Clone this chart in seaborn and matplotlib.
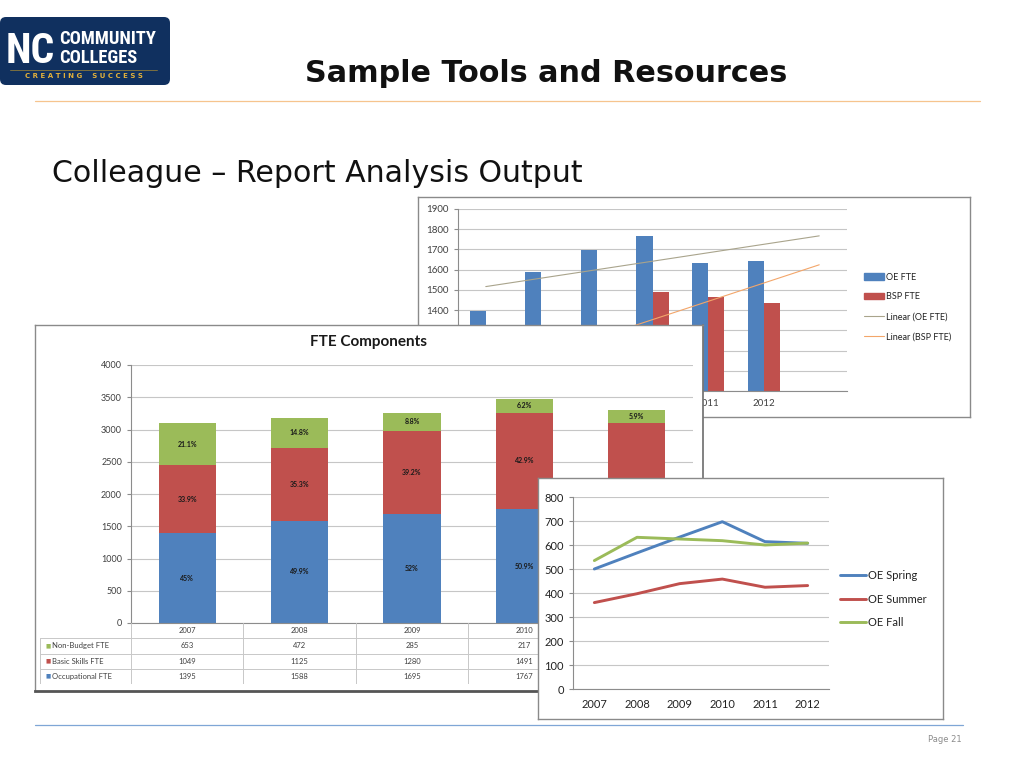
import numpy as np
import pandas as pd
import matplotlib
matplotlib.use('Agg')
import matplotlib.pyplot as plt
import seaborn as sns
from matplotlib.patches import Patch, FancyBboxPatch
from matplotlib.lines import Line2D

sns.set_style('white')
plt.rcParams['font.family'] = ['Lato', 'DejaVu Sans']

# --- data: OE / BSP chart
oe_years = ['2007', '2008', '2009', '2010', '2011', '2012']
oe_fte = [1395, 1588, 1695, 1767, 1635, 1645]
bsp_fte = [1049, 1125, 1280, 1491, 1466, 1435]

# --- data: FTE Components
fte_years = ['2007', '2008', '2009', '2010', '2011']
occupational = [1395, 1588, 1695, 1767, 1635]
basic_skills = [1049, 1125, 1280, 1491, 1466]
non_budget = [653, 472, 285, 217, 195]
occ_pct = ['45%', '49.9%', '52%', '50.9%', '']
basic_pct = ['33.9%', '35.3%', '39.2%', '42.9%', '']
nb_pct = ['21.1%', '14.8%', '8.8%', '6.2%', '5.9%']
row_names = ['Non-Budget FTE', 'Basic Skills FTE', 'Occupational FTE']

# --- data: seasonal OE
season_years = [2007, 2008, 2009, 2010, 2011, 2012]
oe_spring = [500, 567, 633, 697, 614, 607]
oe_summer = [360, 397, 439, 458, 424, 431]
oe_fall = [535, 632, 625, 618, 600, 608]

BLUE = '#4f81bd'
RED = '#c0504d'
GREEN = '#9bbb59'
GRID = '#c6c6c6'
AXC = '#8c8c8c'
TXT = '#404040'
NARROW = ['Liberation Sans Narrow', 'Roboto Condensed', 'DejaVu Sans']

W, H = 1024, 768
fig = plt.figure(figsize=(W / 100, H / 100), dpi=100)
fig.patch.set_facecolor('white')


def px_axes(x0, y0, x1, y1, z):
    return fig.add_axes([x0 / W, 1 - y1 / H, (x1 - x0) / W, (y1 - y0) / H], zorder=z)


def panel(x0, y0, x1, y1, z):
    p = px_axes(x0, y0, x1, y1, z)
    p.set_xticks([])
    p.set_yticks([])
    p.set_facecolor('white')
    for s in p.spines.values():
        s.set_color('#8a8a8a')
        s.set_linewidth(1)
    return p


# ---------- slide header
logo = px_axes(0, 17, 171, 86, 1)
logo.set_xlim(0, 171)
logo.set_ylim(86, 17)
logo.axis('off')
logo.add_patch(FancyBboxPatch((0, 17), 170, 68, boxstyle='round,pad=0,rounding_size=6',
                              fc='#10305f', ec='none', clip_on=False))
logo.text(6, 63, 'NC', color='white', fontsize=30, fontweight='bold',
          family=NARROW, va='baseline')
logo.text(59, 44, 'COMMUNITY', color='white', fontsize=13.3, fontweight='bold',
          family=NARROW, va='baseline')
logo.text(59, 63, 'COLLEGES', color='white', fontsize=13.3, fontweight='bold',
          family=NARROW, va='baseline')
logo.plot([10, 157], [70, 70], color='#8c7a3a', lw=0.6)
logo.text(84, 76, 'C R E A T I N G    S U C C E S S', color='#e3b13a', fontsize=5,
          fontweight='bold', family='DejaVu Sans', ha='center', va='center')

fig.text(546 / W, 1 - 73 / H, 'Sample Tools and Resources', ha='center', va='center',
         fontsize=21.8, fontweight='bold', family='DejaVu Sans', color='#111111')
fig.add_artist(Line2D([35 / W, 980 / W], [1 - 101 / H] * 2, color='#f6c48e', lw=0.9))
fig.text(52 / W, 1 - 173 / H, 'Colleague \u2013 Report Analysis Output', ha='left',
         va='center', fontsize=21.6, family='DejaVu Sans', color='#111111')
fig.add_artist(Line2D([35 / W, 963 / W], [1 - 725 / H] * 2, color='#7fa6d6', lw=0.9))
fig.text(945 / W, 1 - 740 / H, 'Page 21', ha='center', va='center', fontsize=6,
         color='#8c8c8c', family='DejaVu Sans')

# ---------- chart 1: OE FTE vs BSP FTE with linear trends
panel(418, 197, 970, 417, 2)
ax1 = px_axes(458, 209, 847, 391, 3)
ax1.set_facecolor('none')
df1 = pd.DataFrame({'Year': oe_years * 2,
                    'FTE': oe_fte + bsp_fte,
                    'Series': ['OE FTE'] * 6 + ['BSP FTE'] * 6})
sns.barplot(data=df1, x='Year', y='FTE', hue='Series', palette=[BLUE, RED],
            width=0.58, saturation=1, linewidth=0, errorbar=None, legend=False, ax=ax1)
xs = np.arange(len(oe_years))
xt = np.arange(len(oe_years) + 1)
oe_fit = np.polyval(np.polyfit(xs, oe_fte, 1), xt)
bsp_fit = np.polyval(np.polyfit(xs, bsp_fte, 1), xt)
ax1.plot(xt, oe_fit, color='#a9a48c', lw=0.8)
ax1.plot(xt, bsp_fit, color='#f3a66a', lw=0.8)
ax1.set_xlim(-0.5, 6.5)
ax1.set_ylim(1000, 1900)
ax1.set_yticks(range(1000, 2000, 100))
ax1.set_xticks(xs)
ax1.set_xticks(np.arange(-0.5, 7, 1), minor=True)
ax1.tick_params(axis='x', which='major', length=0, labelsize=7, labelcolor=TXT, pad=6)
ax1.tick_params(axis='x', which='minor', length=4, color=AXC, direction='out')
ax1.tick_params(axis='y', length=3, color=AXC, labelsize=7, labelcolor=TXT, left=True)
ax1.set_xlabel('')
ax1.set_ylabel('')
ax1.grid(axis='y', color=GRID, lw=0.8)
ax1.set_axisbelow(True)
for s in ['top', 'right']:
    ax1.spines[s].set_visible(False)
for s in ['left', 'bottom']:
    ax1.spines[s].set_color(AXC)
    ax1.spines[s].set_linewidth(0.8)
h1 = [Patch(color=BLUE, label='OE FTE'), Patch(color=RED, label='BSP FTE'),
      Line2D([], [], color='#a9a48c', lw=0.8, label='Linear (OE FTE)'),
      Line2D([], [], color='#f3a66a', lw=0.8, label='Linear (BSP FTE)')]
ax1.legend(handles=h1, loc='center left', bbox_to_anchor=(1.022, 0.462), frameon=False,
           fontsize=6.5, handlelength=2.3, handleheight=0.7, handletextpad=0.2,
           labelspacing=1.2, labelcolor='#222222')

# ---------- chart 2: FTE Components (stacked)
p2 = panel(35, 325, 703, 691, 4)
p2.spines['bottom'].set_color('#555555')
p2.spines['bottom'].set_linewidth(2)
p2.spines['right'].set_color('#777777')
p2.spines['right'].set_linewidth(1.3)
fig.text(369 / W, 1 - 342 / H, 'FTE Components', ha='center', va='center', fontsize=11,
         fontweight='bold', color='#1a1a1a', zorder=6)
ax2 = px_axes(131, 365, 693, 623, 5)
ax2.set_facecolor('none')
mid = np.add(occupational, basic_skills)
tot = np.add(mid, non_budget)
sns.barplot(x=fte_years, y=tot, color=GREEN, width=0.51, saturation=1, linewidth=0, ax=ax2)
sns.barplot(x=fte_years, y=mid, color=RED, width=0.51, saturation=1, linewidth=0, ax=ax2)
sns.barplot(x=fte_years, y=occupational, color=BLUE, width=0.51, saturation=1,
            linewidth=0, ax=ax2)
for i in range(len(fte_years)):
    lab = dict(ha='center', va='center', fontsize=5, fontweight='bold', color='#1a1a1a')
    ax2.text(i, occupational[i] / 2, occ_pct[i], **lab)
    ax2.text(i, occupational[i] + basic_skills[i] / 2, basic_pct[i], **lab)
    ax2.text(i, mid[i] + non_budget[i] / 2, nb_pct[i], **lab)
ax2.set_xlim(-0.5, 4.5)
ax2.set_ylim(0, 4000)
ax2.set_yticks(range(0, 4001, 500))
ax2.set_xticks([])
ax2.tick_params(axis='y', length=3, color=AXC, labelsize=6.5, labelcolor=TXT, left=True)
ax2.grid(axis='y', color=GRID, lw=0.8)
ax2.set_axisbelow(True)
for s in ['top', 'right']:
    ax2.spines[s].set_visible(False)
for s in ['left', 'bottom']:
    ax2.spines[s].set_color(AXC)
    ax2.spines[s].set_linewidth(0.8)

# data table under chart 2
tab = px_axes(40, 623, 693, 684, 5)
left_w = (131 - 40) / ((693 - 131) / 5)
x_left = -0.5 - left_w
tab.set_xlim(x_left, 4.5)
tab.set_ylim(4, 0)
tab.axis('off')
rows = [non_budget, basic_skills, occupational]
keys = [GREEN, RED, BLUE]
for k in range(6):
    tab.plot([k - 0.5, k - 0.5], [0, 4], color='#c8c8c8', lw=0.7)
tab.plot([x_left, x_left], [1, 4], color='#c8c8c8', lw=0.7)
for r in range(1, 5):
    tab.plot([x_left, 4.5], [r, r], color='#c8c8c8', lw=0.7)
for i, yr in enumerate(fte_years):
    tab.text(i, 0.5, yr, ha='center', va='center', fontsize=5.5, color=TXT)
for r, (name, vals, c) in enumerate(zip(row_names, rows, keys), start=1):
    tab.text(x_left + 0.05, r + 0.5, '\u25a0', ha='left', va='center', fontsize=4,
             color=c, family='DejaVu Sans')
    tab.text(x_left + 0.11, r + 0.5, name, ha='left', va='center', fontsize=5.5, color=TXT)
    for i, v in enumerate(vals):
        tab.text(i, r + 0.5, str(v), ha='center', va='center', fontsize=5.5, color=TXT)

# ---------- chart 3: seasonal OE lines
panel(538, 478, 943, 719, 6)
ax3 = px_axes(573, 497, 829, 689, 7)
ax3.set_facecolor('none')
df3 = pd.DataFrame({'Year': season_years * 3,
                    'FTE': oe_spring + oe_summer + oe_fall,
                    'Term': ['OE Spring'] * 6 + ['OE Summer'] * 6 + ['OE Fall'] * 6})
sns.lineplot(data=df3, x='Year', y='FTE', hue='Term', palette=[BLUE, RED, GREEN],
             linewidth=2.1, legend=False, ax=ax3)
ax3.set_xlim(2006.5, 2012.5)
ax3.set_ylim(0, 800)
ax3.set_yticks(range(0, 801, 100))
ax3.set_xticks(season_years)
ax3.set_xticks(np.arange(2006.5, 2013, 1), minor=True)
ax3.tick_params(axis='x', which='major', length=0, labelsize=8, labelcolor='#222222', pad=7)
ax3.tick_params(axis='x', which='minor', length=4, color=AXC, direction='out')
ax3.tick_params(axis='y', length=3, color=AXC, labelsize=8, labelcolor='#222222', left=True)
ax3.set_xlabel('')
ax3.set_ylabel('')
ax3.grid(axis='y', color=GRID, lw=0.8)
ax3.set_axisbelow(True)
for s in ['top', 'right']:
    ax3.spines[s].set_visible(False)
for s in ['left', 'bottom']:
    ax3.spines[s].set_color(AXC)
    ax3.spines[s].set_linewidth(0.8)
h3 = [Line2D([], [], color=c, lw=2.1, label=n)
      for c, n in zip([BLUE, RED, GREEN], ['OE Spring', 'OE Summer', 'OE Fall'])]
ax3.legend(handles=h3, loc='center left', bbox_to_anchor=(1.005, 0.468), frameon=False,
           fontsize=8, handlelength=2.3, handletextpad=0.15, labelspacing=1.12,
           labelcolor='#222222')

fig.savefig('out.png', dpi=100, facecolor='white')
